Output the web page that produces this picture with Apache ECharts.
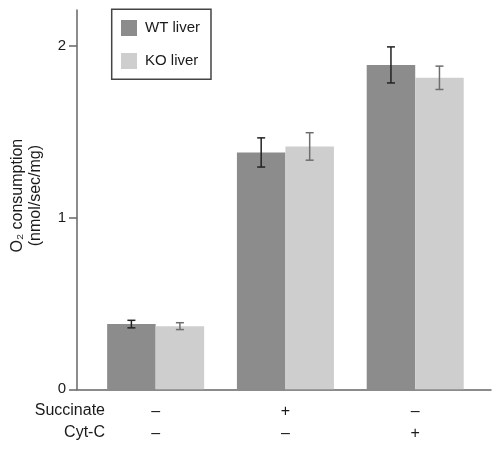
<!DOCTYPE html>
<html><head><meta charset="utf-8">
<script src="https://cdn.jsdelivr.net/npm/echarts@6/dist/echarts.min.js"></script>
<style>html,body{margin:0;padding:0;background:#fff}#c{width:502px;height:452px}</style>
</head><body><div id="c"></div>
<script>
const groups = [1, 2, 3];
const succinateLabels = ['–', '+', '–'];
const cytcLabels = ['–', '–', '+'];
const wtMeans = [0.38, 1.38, 1.89];
const wtErr = [0.022, 0.085, 0.105];
const koMeans = [0.368, 1.415, 1.815];
const koErr = [0.02, 0.08, 0.068];
const seriesNames = ['WT liver', 'KO liver'];
const rowLabels = ['Succinate', 'Cyt-C'];

const FONT = '"Liberation Sans", Arial, Helvetica, sans-serif';
const BARW = 48.5;
const chart = echarts.init(document.getElementById('c'), null, {renderer: 'canvas'});

function errSeries(means, errs, side, color) {
  return {
    type: 'custom',
    z: 5,
    data: groups.map((g, i) => [g, means[i] - errs[i], means[i] + errs[i]]),
    renderItem: function (params, api) {
      const lo = api.coord([api.value(0), api.value(1)]);
      const hi = api.coord([api.value(0), api.value(2)]);
      const x = lo[0] + side * BARW / 2;
      const cw = 4;
      const st = {stroke: color, lineWidth: 1.5};
      return {type: 'group', children: [
        {type: 'line', shape: {x1: x, y1: lo[1], x2: x, y2: hi[1]}, style: st},
        {type: 'line', shape: {x1: x - cw, y1: lo[1], x2: x + cw, y2: lo[1]}, style: st},
        {type: 'line', shape: {x1: x - cw, y1: hi[1], x2: x + cw, y2: hi[1]}, style: st}
      ]};
    }
  };
}

chart.setOption({
  animation: false,
  textStyle: {fontFamily: FONT, color: '#1a1a1a'},
  grid: {left: 77, right: 11, top: 10, bottom: 62.7, containLabel: false, outerBoundsMode: 'none'},
  legend: {
    data: seriesNames,
    orient: 'vertical',
    left: 111.7, top: 9.3,
    padding: [10.7, 11, 10.3, 9.3],
    itemWidth: 16, itemHeight: 16, itemGap: 17,
    icon: 'rect',
    borderColor: '#444', borderWidth: 1.5,
    textStyle: {fontSize: 15, fontFamily: FONT, color: '#1a1a1a', padding: [0, 0, 0, 3]}
  },
  xAxis: {
    type: 'value', min: 0.394, max: 3.584,
    splitLine: {show: false},
    axisLine: {show: true, lineStyle: {color: '#666', width: 1.5}},
    axisTick: {show: false},
    axisLabel: {
      customValues: groups,
      formatter: function (v) {
        const i = groups.indexOf(Math.round(v));
        return succinateLabels[i] + '\n' + cytcLabels[i];
      },
      fontSize: 16, lineHeight: 22, margin: 11.5, color: '#1a1a1a', fontFamily: FONT
    }
  },
  yAxis: {
    type: 'value', min: 0, max: 2.21, interval: 1,
    splitLine: {show: false},
    axisLine: {show: true, lineStyle: {color: '#666', width: 1.5}},
    axisTick: {show: true, inside: false, length: 8, lineStyle: {color: '#666', width: 1.5}},
    axisLabel: {fontSize: 15, margin: 11, color: '#1a1a1a', fontFamily: FONT,
      showMaxLabel: false},
    name: 'O₂ consumption\n(nmol/sec/mg)',
    nameLocation: 'middle', nameRotate: 90, nameGap: 32,
    nameTextStyle: {fontSize: 16, lineHeight: 18, color: '#1a1a1a', fontFamily: FONT, padding: [0, 0, 0, 8]}
  },
  graphic: [
    {type: 'text', right: 502 - 105, top: 402.5, style: {text: rowLabels[0], font: '16px ' + FONT, fill: '#1a1a1a'}},
    {type: 'text', right: 502 - 105, top: 424.5, style: {text: rowLabels[1], font: '16px ' + FONT, fill: '#1a1a1a'}}
  ],
  series: [
    {name: seriesNames[0], type: 'bar', barWidth: BARW, barGap: '0%',
     itemStyle: {color: '#8c8c8c'}, data: groups.map((g, i) => [g, wtMeans[i]])},
    {name: seriesNames[1], type: 'bar', barWidth: BARW, barGap: '0%',
     itemStyle: {color: '#cecece'}, data: groups.map((g, i) => [g, koMeans[i]])},
    errSeries(wtMeans, wtErr, -1, '#222'),
    errSeries(koMeans, koErr, 1, '#6e6e6e')
  ]
});
</script></body></html>
